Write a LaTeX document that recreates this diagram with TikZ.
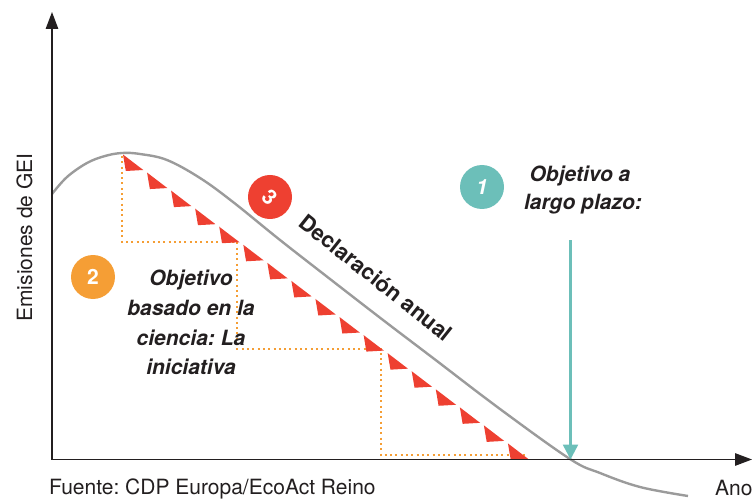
\documentclass[tikz,border=0pt]{standalone}
\usepackage{fontspec}
\setmainfont{TeX Gyre Heros}
\usetikzlibrary{arrows.meta}
\definecolor{crv}{HTML}{9B9B9B}
\definecolor{redc}{HTML}{EE4031}
\definecolor{orac}{HTML}{F59E35}
\definecolor{tealc}{HTML}{6CBFB9}
\definecolor{ink}{HTML}{231F20}
\frenchspacing
\tikzset{
  axis/.style={line width=1.3pt, ink, -{Triangle[length=17pt,width=12.5pt]}},
  curvel/.style={line width=2.4pt, crv},
  stairs/.style={line width=2.2pt, orac, dash pattern=on 2pt off 3.3pt},
  tri/.style={fill=redc},
  badge/.style={circle, minimum size=44pt, inner sep=0pt, text=white, font=\fontsize{21}{25}\selectfont\bfseries},
  lbl/.style={anchor=base, inner sep=0pt, text=ink, font=\fontsize{21}{25}\selectfont\bfseries\itshape},
  plain/.style={inner sep=0pt, text=ink, font=\fontsize{21}{25}\selectfont},
  tealarrow/.style={line width=2.5pt, tealc, -{Triangle[length=15pt,width=15pt]}}
}
\begin{document}
\begin{tikzpicture}[x=1pt,y=-1pt]
\useasboundingbox (0,0) rectangle (753,500);
% axes
\coordinate (O) at (52,459.5);
\coordinate (ytip) at (52,12);
\coordinate (xtip) at (752,459.5);
% curve
\draw[curvel] plot[smooth, tension=0.6] coordinates {(52,194) (67,177) (87,163) (105,156) (122,153) (140,154) (167,160) (200,178) (233,202) (280,240) (330,279) (383,320) (433,358) (500,409) (570,459) (600,473) (640,487) (688,496)};
% dotted staircase
\draw[stairs] (122,156) -- (122,242) -- (237,242) -- (237,349) -- (381,349) -- (381,455) -- (525,455);
% red triangles
\foreach \i in {0,...,16} {
  \fill[tri] ({123+24.06*\i},{154.5+18.06*\i}) -- ++(2.8,16.5) -- ++(17.5,-1) -- cycle;
}
\draw[axis] (O) -- (ytip);
\draw[axis] (O) -- (xtip);
% teal arrow
\coordinate (ts) at (570.5,240);
\coordinate (te) at (570.5,459.5);
\draw[tealarrow] (ts) -- (te);
% badges
\node[badge, fill=tealc, font=\fontsize{21}{25}\selectfont\bfseries\itshape] (c1) at (482,187) {1};
\node[badge, fill=orac] (c2) at (93,277) {2};
\node[badge, fill=redc, rotate=-45] (c3) at (270,197) {3};
% labels
\node[lbl] (t1a) at (580,182) {Objetivo a};
\node[lbl] (t1b) at (583,210) {largo plazo:};
\node[lbl] (t2a) at (191,285) {Objetivo};
\node[lbl] (t2b) at (191,315) {basado en la};
\node[lbl] (t2c) at (191,345) {ciencia: La};
\node[lbl] (t2d) at (191,374) {iniciativa};
\node[lbl, rotate=-38.5, font=\fontsize{22}{25}\selectfont\bfseries] (t3) at (371,284) {Declaración anual};
\node[plain, rotate=90] (ylab) at (24.5,237.5) {Emisiones de GEI};
\node[plain, anchor=base west] (src) at (49,494) {Fuente: CDP Europa/EcoAct Reino};
\node[plain, anchor=base west] (xlab) at (715,495) {Ano};
\end{tikzpicture}
\end{document}
